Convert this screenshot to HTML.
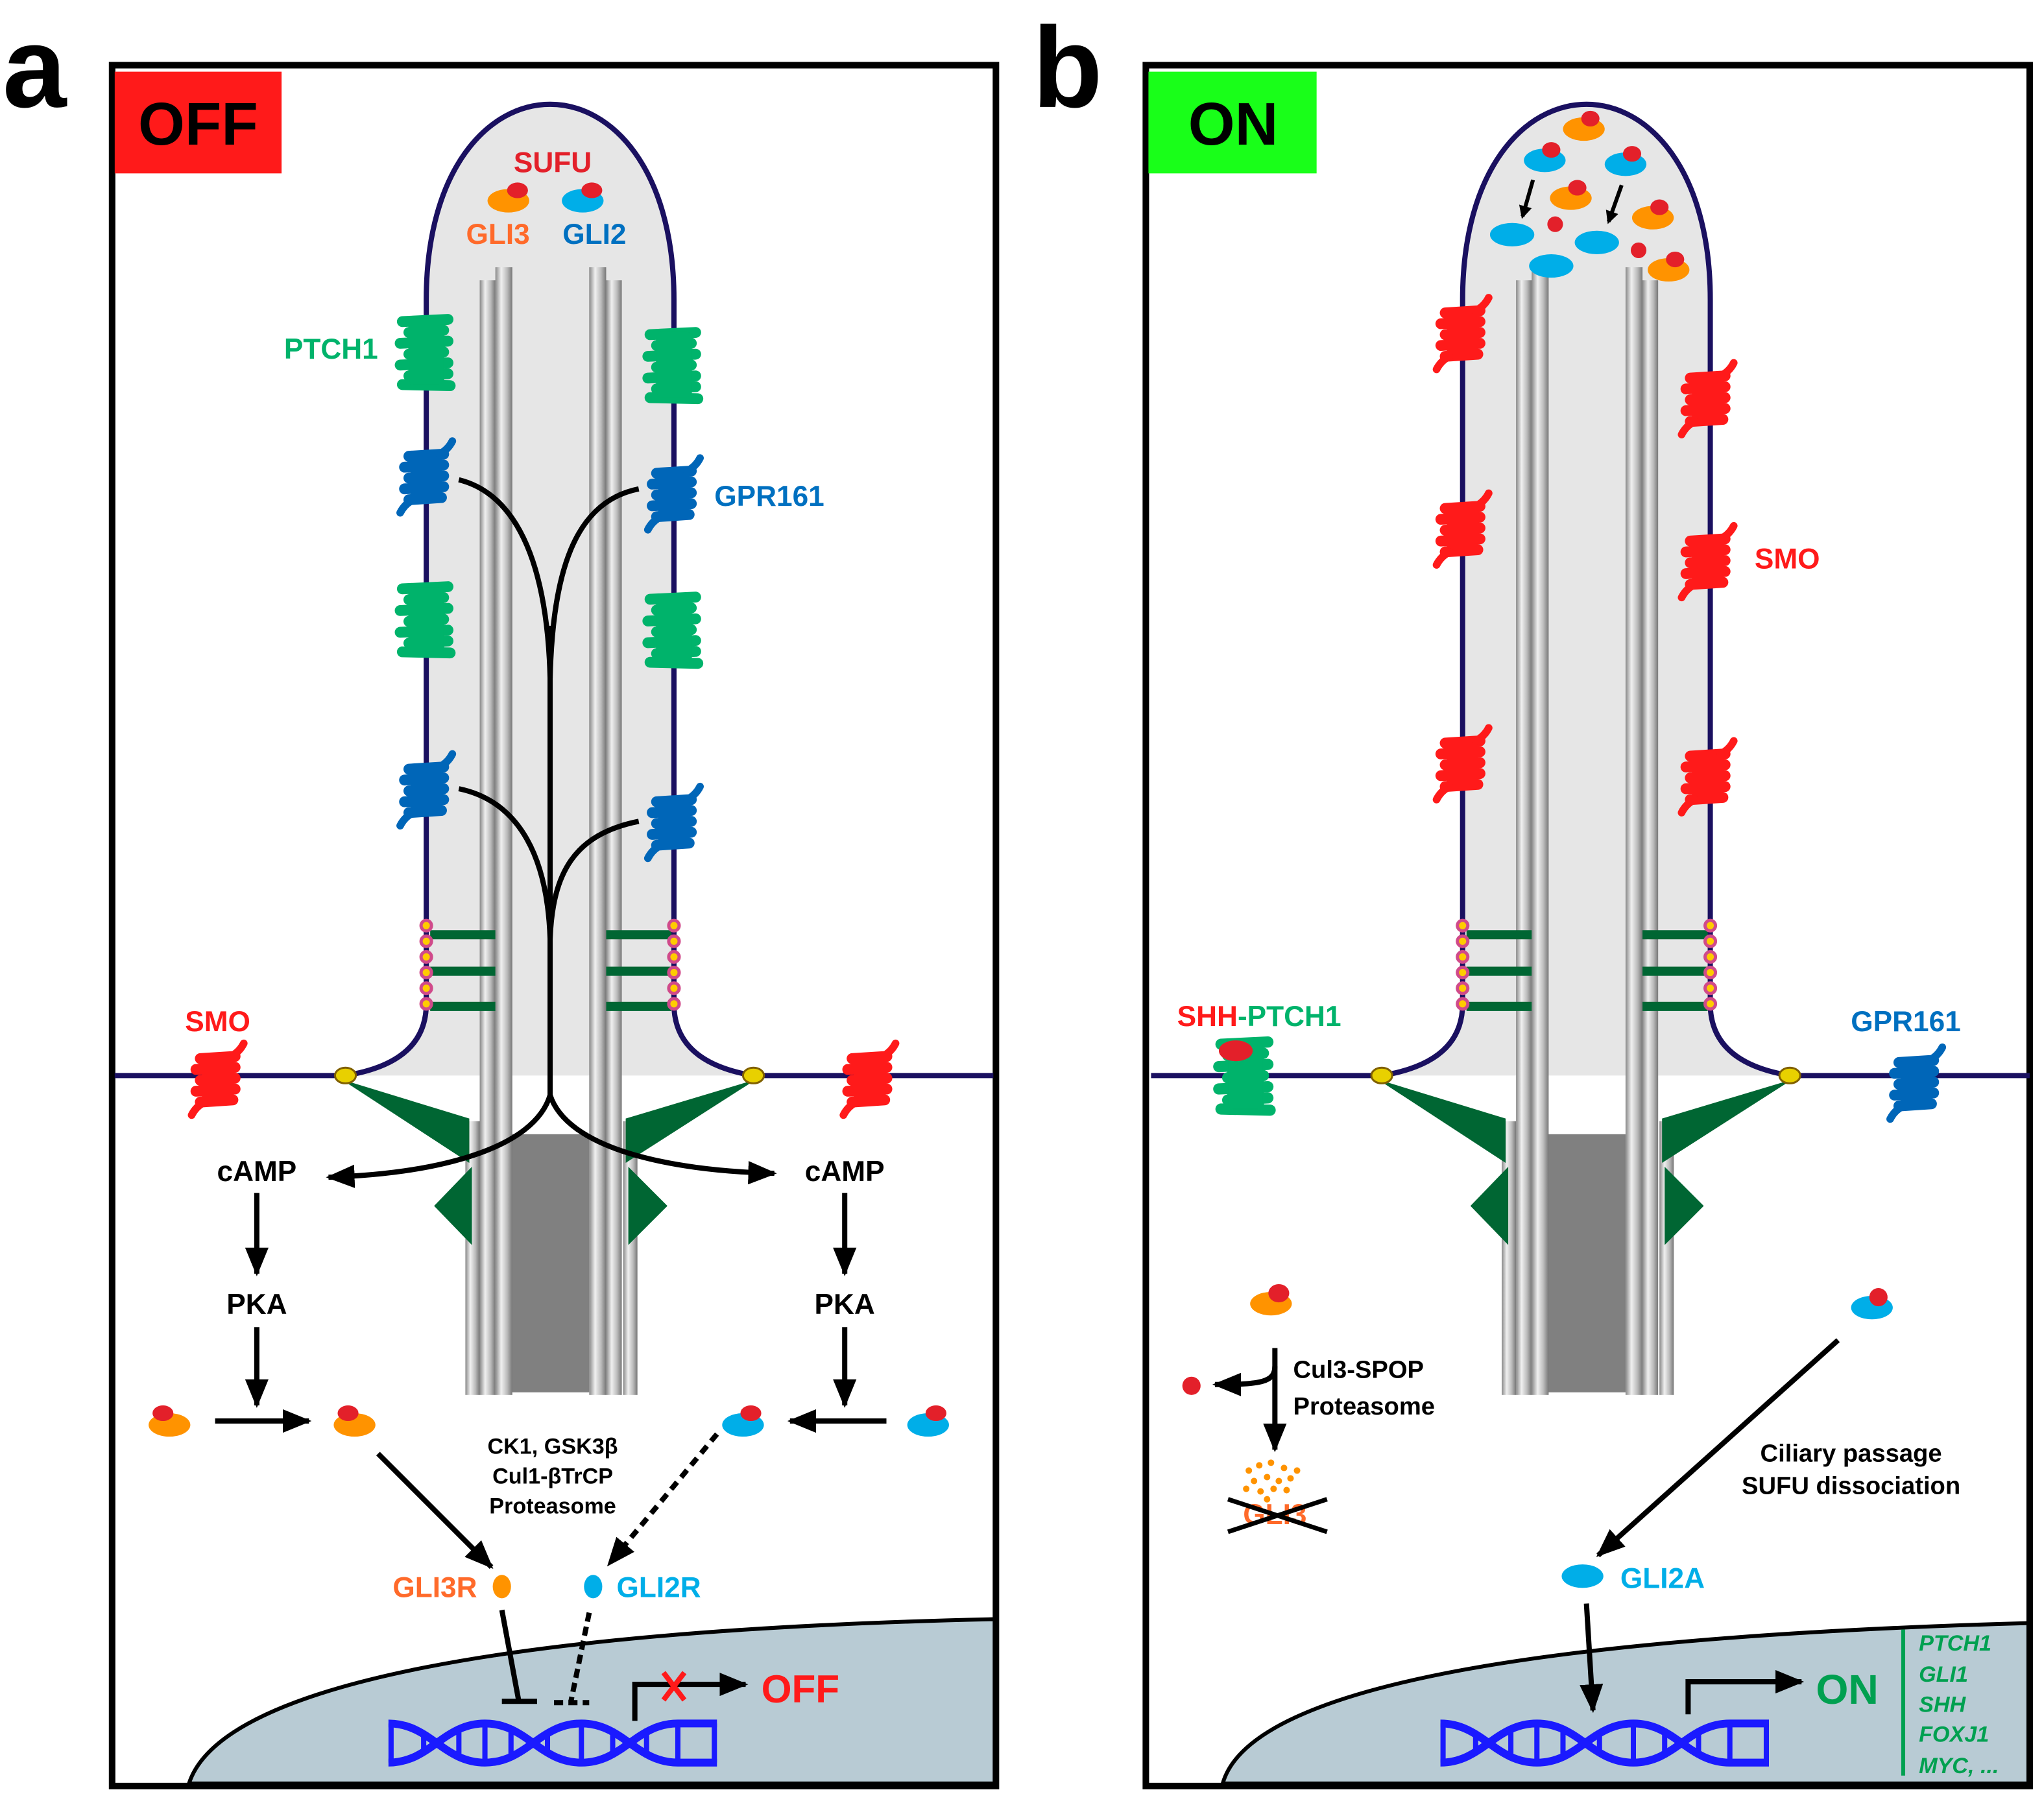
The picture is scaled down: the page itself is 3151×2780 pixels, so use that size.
<!DOCTYPE html>
<html><head><meta charset="utf-8"><style>
html,body{margin:0;padding:0;background:#fff;}
svg{display:block;}
text{font-family:"Liberation Sans",Arial,sans-serif;font-weight:bold;}
</style></head><body>
<svg width="3151" height="2780" viewBox="0 0 1568 1383" preserveAspectRatio="none" xmlns="http://www.w3.org/2000/svg">
<defs>
<linearGradient id="tube" x1="0" x2="1" y1="0" y2="0">
<stop offset="0" stop-color="#888"/><stop offset="0.35" stop-color="#f0f0f0"/><stop offset="0.7" stop-color="#bbb"/><stop offset="1" stop-color="#777"/>
</linearGradient>
<marker id="ar" markerWidth="10" markerHeight="10" refX="8" refY="5" orient="auto" markerUnits="userSpaceOnUse" viewBox="0 0 10 10">
<path d="M0,0 L10,5 L0,10 Z" fill="#000"/></marker>
<marker id="arb" markerWidth="22" markerHeight="18" refX="20" refY="9" orient="auto" markerUnits="userSpaceOnUse">
<path d="M0,0 L22,9 L0,18 Z" fill="#000"/></marker>
<symbol id="tm" viewBox="-30 -35 60 70" overflow="visible">
<path d="M-22,-28 L20,-30 M-16,-18 L16,-20 M-24,-8 L20,-10 M-16,2 L16,0 M-24,12 L20,10 M-16,22 L20,20 M-22,30 L22,31" stroke-width="10" stroke-linecap="round" fill="none"/>
<rect x="-16" y="-30" width="32" height="60" rx="4"/>
</symbol>
<symbol id="gp" viewBox="-30 -35 60 70" overflow="visible">
<path d="M-16,-18 L16,-20 M-20,-8 L16,-10 M-16,2 L16,0 M-20,12 L16,10 M-16,22 L14,20" stroke-width="10" stroke-linecap="round" fill="none"/>
<rect x="-14" y="-20" width="28" height="44" rx="4"/>
<path d="M12,-20 Q20,-24 24,-32 M-12,22 Q-20,26 -24,34" stroke-width="7" stroke-linecap="round" fill="none"/>
</symbol>
<g id="cilium">
<path d="M265,825 Q327,815 327,770 L327,230 C327,30 517,30 517,230 L517,770 Q517,815 578,825 Z" fill="#e6e6e6"/>
<rect x="392" y="870" width="60" height="198" fill="#808080"/>
<rect x="357" y="860" width="11" height="210" fill="url(#tube)"/>
<rect x="478" y="860" width="11" height="210" fill="url(#tube)"/>
<rect x="368" y="215" width="12" height="855" fill="url(#tube)"/>
<rect x="380" y="205" width="13" height="865" fill="url(#tube)"/>
<rect x="452" y="205" width="13" height="865" fill="url(#tube)"/>
<rect x="465" y="215" width="12" height="855" fill="url(#tube)"/>
<path d="M262,828 L360,858 L360,892 Z M580,828 L480,858 L480,892 Z" fill="#006633"/>
<path d="M333,925 L362,895 L362,955 Z M512,925 L482,895 L482,955 Z" fill="#006633"/>
<path d="M88,825 L265,825 Q327,815 327,770 L327,230 C327,30 517,30 517,230 L517,770 Q517,815 578,825 L762,825" fill="none" stroke="#1a1060" stroke-width="4"/>
<g stroke="#006633" stroke-width="7"><path d="M330,717 H380 M330,745 H380 M330,772 H380 M465,717 H515 M465,745 H515 M465,772 H515"/></g>
<g fill="#ffcc00" stroke="#d04a8a" stroke-width="2.5">
<circle cx="327" cy="710" r="4"/><circle cx="327" cy="722" r="4"/><circle cx="327" cy="734" r="4"/><circle cx="327" cy="746" r="4"/><circle cx="327" cy="758" r="4"/><circle cx="327" cy="770" r="4"/>
<circle cx="517" cy="710" r="4"/><circle cx="517" cy="722" r="4"/><circle cx="517" cy="734" r="4"/><circle cx="517" cy="746" r="4"/><circle cx="517" cy="758" r="4"/><circle cx="517" cy="770" r="4"/>
</g>
<ellipse cx="265" cy="825" rx="8" ry="6" fill="#e8d000" stroke="#806000" stroke-width="1.5"/>
<ellipse cx="578" cy="825" rx="8" ry="6" fill="#e8d000" stroke="#806000" stroke-width="1.5"/>
</g>
</defs>

<rect x="86" y="50" width="678" height="1320" fill="none" stroke="#000" stroke-width="5"/>
<rect x="879" y="50" width="678" height="1320" fill="none" stroke="#000" stroke-width="5"/>
<text x="2" y="82" font-size="88" fill="#000">a</text>
<text x="792" y="82" font-size="88" fill="#000">b</text>

<path d="M145,1368 C170,1290 400,1250 763,1242 L763,1368 Z" fill="#b8cbd4" stroke="#000" stroke-width="3"/>
<use href="#cilium"/>
<rect x="88" y="55" width="128" height="78" fill="#ff1a1a"/>
<text x="152" y="111" font-size="46" text-anchor="middle" fill="#000">OFF</text>

<text x="424" y="132" font-size="22" text-anchor="middle" fill="#e3202a">SUFU</text>
<ellipse cx="390" cy="154" rx="16" ry="9" fill="#ff9300"/><ellipse cx="397" cy="146" rx="8" ry="6" fill="#e3202a"/>
<ellipse cx="447" cy="154" rx="16" ry="9" fill="#00aee8"/><ellipse cx="454" cy="146" rx="8" ry="6" fill="#e3202a"/>
<text x="382" y="187" font-size="22" text-anchor="middle" fill="#ff6a2a">GLI3</text>
<text x="456" y="187" font-size="22" text-anchor="middle" fill="#0070c0">GLI2</text>

<g fill="#00b36b" stroke="#00b36b">
<use href="#tm" x="302" y="235" width="50" height="70"/>
<use href="#tm" x="302" y="440" width="50" height="70"/>
<use href="#tm" x="492" y="245" width="50" height="70"/>
<use href="#tm" x="492" y="448" width="50" height="70"/>
</g>
<g fill="#0066b8" stroke="#0066b8">
<use href="#gp" x="302" y="330" width="50" height="70"/>
<use href="#gp" x="302" y="570" width="50" height="70"/>
<use href="#gp" x="492" y="343" width="50" height="70"/>
<use href="#gp" x="492" y="595" width="50" height="70"/>
</g>
<g fill="#ff1a1a" stroke="#ff1a1a">
<use href="#gp" x="142" y="792" width="50" height="70"/>
<use href="#gp" x="642" y="792" width="50" height="70"/>
</g>
<text x="290" y="275" font-size="22" text-anchor="end" fill="#00b36b">PTCH1</text>
<text x="548" y="388" font-size="22" fill="#0070c0">GPR161</text>
<text x="167" y="791" font-size="22" text-anchor="middle" fill="#ff1a1a">SMO</text>

<g fill="none" stroke="#000" stroke-width="4">
<path d="M352,368 C400,380 420,440 422,520"/>
<path d="M490,375 C440,385 424,440 422,520"/>
<path d="M352,605 C400,615 420,660 422,720"/>
<path d="M490,630 C440,640 424,670 422,720"/>
<path d="M422,480 L422,840"/>
<path d="M422,840 C410,880 340,900 252,903" marker-end="url(#arb)"/>
<path d="M422,840 C435,880 510,898 594,900" marker-end="url(#arb)"/>
<path d="M197,915 L197,977" marker-end="url(#arb)"/>
<path d="M197,1018 L197,1078" marker-end="url(#arb)"/>
<path d="M648,915 L648,977" marker-end="url(#arb)"/>
<path d="M648,1018 L648,1078" marker-end="url(#arb)"/>
<path d="M165,1090 L237,1090" marker-end="url(#arb)"/>
<path d="M680,1090 L606,1090" marker-end="url(#arb)"/>
<path d="M290,1115 L377,1202" marker-end="url(#arb)"/>
<path d="M550,1100 L467,1200" stroke-dasharray="7,5" marker-end="url(#arb)"/>
<path d="M385,1235 L398,1305 M385,1305 L412,1305"/>
<path d="M452,1237 L438,1305 M425,1306 L452,1306" stroke-dasharray="7,4"/>
<path d="M487,1320 L487,1292 L572,1292" marker-end="url(#arb)"/>
</g>
<text x="197" y="906" font-size="22" text-anchor="middle">cAMP</text>
<text x="197" y="1008" font-size="22" text-anchor="middle">PKA</text>
<text x="648" y="906" font-size="22" text-anchor="middle">cAMP</text>
<text x="648" y="1008" font-size="22" text-anchor="middle">PKA</text>
<g>
<ellipse cx="130" cy="1093" rx="16" ry="9" fill="#ff9300"/><ellipse cx="125" cy="1084" rx="8" ry="6" fill="#e3202a"/>
<ellipse cx="272" cy="1093" rx="16" ry="9" fill="#ff9300"/><ellipse cx="267" cy="1084" rx="8" ry="6" fill="#e3202a"/>
<ellipse cx="570" cy="1093" rx="16" ry="9" fill="#00aee8"/><ellipse cx="576" cy="1084" rx="8" ry="6" fill="#e3202a"/>
<ellipse cx="712" cy="1093" rx="16" ry="9" fill="#00aee8"/><ellipse cx="718" cy="1084" rx="8" ry="6" fill="#e3202a"/>
</g>
<text x="424" y="1115" font-size="17" text-anchor="middle">CK1, GSK3β</text>
<text x="424" y="1138" font-size="17" text-anchor="middle">Cul1-βTrCP</text>
<text x="424" y="1161" font-size="17" text-anchor="middle">Proteasome</text>
<text x="366" y="1225" font-size="22" text-anchor="end" fill="#ff6a2a">GLI3R</text>
<ellipse cx="385" cy="1217" rx="7" ry="9" fill="#ff9300"/>
<ellipse cx="455" cy="1217" rx="7" ry="9" fill="#00aee8"/>
<text x="473" y="1225" font-size="22" fill="#00aee8">GLI2R</text>
<g id="dna" fill="none" stroke="#1a1aff" stroke-width="6">
<path d="M298,1322 C330,1322 340,1352 372,1352 C404,1352 414,1322 446,1322 C478,1322 488,1352 520,1352 L550,1352"/>
<path d="M298,1352 C330,1352 340,1322 372,1322 C404,1322 414,1352 446,1352 C478,1352 488,1322 520,1322 L550,1322"/>
<path d="M300,1322 V1352 M548,1322 V1352 M325,1328 V1346 M352,1324 V1350 M372,1322 V1352 M392,1324 V1350 M420,1328 V1346 M446,1322 V1352 M470,1326 V1348 M496,1326 V1348 M520,1322 V1352" stroke-width="4"/>
</g>
<path d="M509,1283 L525,1304 M525,1283 L509,1304" stroke="#ff1a1a" stroke-width="4"/>
<text x="584" y="1306" font-size="30" fill="#ff1a1a">OFF</text>

<path d="M938,1368 C960,1290 1200,1255 1556,1245 L1556,1368 Z" fill="#b8cbd4" stroke="#000" stroke-width="3"/>
<use href="#cilium" x="795"/>
<rect x="881" y="55" width="129" height="78" fill="#19ff19"/>
<text x="946" y="111" font-size="46" text-anchor="middle" fill="#000">ON</text>

<g>
<ellipse cx="1215" cy="99" rx="16" ry="9" fill="#ff9300"/><ellipse cx="1220" cy="91" rx="7" ry="6" fill="#e3202a"/>
<ellipse cx="1185" cy="123" rx="16" ry="9" fill="#00aee8"/><ellipse cx="1190" cy="115" rx="7" ry="6" fill="#e3202a"/>
<ellipse cx="1247" cy="126" rx="16" ry="9" fill="#00aee8"/><ellipse cx="1252" cy="118" rx="7" ry="6" fill="#e3202a"/>
<ellipse cx="1205" cy="152" rx="16" ry="9" fill="#ff9300"/><ellipse cx="1210" cy="144" rx="7" ry="6" fill="#e3202a"/>
<ellipse cx="1268" cy="167" rx="16" ry="9" fill="#ff9300"/><ellipse cx="1273" cy="159" rx="7" ry="6" fill="#e3202a"/>
<ellipse cx="1280" cy="207" rx="16" ry="9" fill="#ff9300"/><ellipse cx="1285" cy="199" rx="7" ry="6" fill="#e3202a"/>
<ellipse cx="1160" cy="180" rx="17" ry="9" fill="#00aee8"/>
<ellipse cx="1225" cy="186" rx="17" ry="9" fill="#00aee8"/>
<ellipse cx="1190" cy="204" rx="17" ry="9" fill="#00aee8"/>
<circle cx="1193" cy="172" r="6" fill="#e3202a"/><circle cx="1257" cy="192" r="6" fill="#e3202a"/>
</g>
<g stroke="#000" stroke-width="3" fill="none">
<path d="M1176,138 L1168,166" marker-end="url(#ar)"/>
<path d="M1244,142 L1234,170" marker-end="url(#ar)"/>
</g>
<g fill="#ff1a1a" stroke="#ff1a1a">
<use href="#gp" x="1097" y="220" width="50" height="70"/>
<use href="#gp" x="1097" y="370" width="50" height="70"/>
<use href="#gp" x="1097" y="550" width="50" height="70"/>
<use href="#gp" x="1285" y="270" width="50" height="70"/>
<use href="#gp" x="1285" y="395" width="50" height="70"/>
<use href="#gp" x="1285" y="560" width="50" height="70"/>
</g>
<text x="1346" y="436" font-size="22" fill="#ff1a1a">SMO</text>
<g fill="#00b36b" stroke="#00b36b"><use href="#tm" x="928" y="795" width="55" height="60"/></g>
<ellipse cx="948" cy="806" rx="13" ry="8" fill="#e3202a"/>
<g fill="#0066b8" stroke="#0066b8"><use href="#gp" x="1445" y="795" width="50" height="70"/></g>
<text x="903" y="787" font-size="22"><tspan fill="#ff1a1a">SHH</tspan><tspan fill="#00b36b">-PTCH1</tspan></text>
<text x="1462" y="791" font-size="22" text-anchor="middle" fill="#0070c0">GPR161</text>

<ellipse cx="975" cy="1000" rx="16" ry="9" fill="#ff9300"/><ellipse cx="981" cy="992" rx="8" ry="7" fill="#e3202a"/>
<ellipse cx="1436" cy="1003" rx="16" ry="9" fill="#00aee8"/><ellipse cx="1441" cy="995" rx="7" ry="7" fill="#e3202a"/>
<g fill="none" stroke="#000" stroke-width="4">
<path d="M978,1034 L978,1112" marker-end="url(#arb)"/>
<path d="M978,1048 C978,1060 968,1062 932,1062" marker-end="url(#arb)"/>
<path d="M1410,1028 L1226,1193" marker-end="url(#arb)"/>
<path d="M1217,1230 L1222,1312" marker-end="url(#arb)"/>
<path d="M1295,1315 L1295,1290 L1382,1290" marker-end="url(#arb)"/>
</g>
<circle cx="914" cy="1063" r="7" fill="#e3202a"/>
<text x="992" y="1057" font-size="19">Cul3-SPOP</text>
<text x="992" y="1085" font-size="19">Proteasome</text>
<g fill="#ff9300">
<circle cx="958" cy="1128" r="2.5"/><circle cx="966" cy="1124" r="2.5"/><circle cx="975" cy="1122" r="2.5"/><circle cx="985" cy="1126" r="2.5"/><circle cx="995" cy="1128" r="2.5"/>
<circle cx="962" cy="1136" r="2.5"/><circle cx="972" cy="1133" r="2.5"/><circle cx="981" cy="1136" r="2.5"/><circle cx="990" cy="1134" r="2.5"/>
<circle cx="956" cy="1142" r="2.5"/><circle cx="967" cy="1144" r="2.5"/><circle cx="977" cy="1142" r="2.5"/><circle cx="987" cy="1143" r="2.5"/><circle cx="972" cy="1150" r="2.5"/>
</g>
<text x="978" y="1169" font-size="22" text-anchor="middle" fill="#ff6a2a">GLI3</text>
<path d="M942,1150 L1018,1175 M942,1175 L1018,1150" stroke="#000" stroke-width="3.5"/>
<text x="1420" y="1121" font-size="19" text-anchor="middle">Ciliary passage</text>
<text x="1420" y="1146" font-size="19" text-anchor="middle">SUFU dissociation</text>
<ellipse cx="1214" cy="1209" rx="16" ry="9" fill="#00aee8"/>
<text x="1243" y="1218" font-size="22" fill="#00aee8">GLI2A</text>
<use href="#dna" x="807"/>
<text x="1393" y="1307" font-size="32" fill="#00a050">ON</text>
<path d="M1460,1250 L1460,1362" stroke="#00a050" stroke-width="3"/>
<g font-size="17" fill="#00a050" font-style="italic">
<text x="1472" y="1266">PTCH1</text>
<text x="1472" y="1290">GLI1</text>
<text x="1472" y="1313">SHH</text>
<text x="1472" y="1336">FOXJ1</text>
<text x="1472" y="1360">MYC, ...</text>
</g>
</svg>
</body></html>
